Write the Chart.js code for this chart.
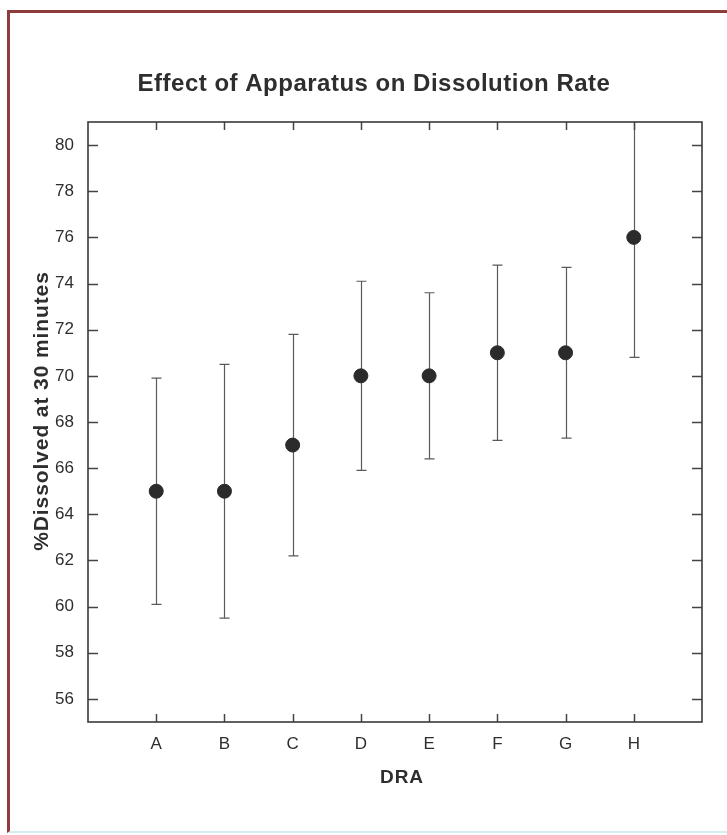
<!DOCTYPE html>
<html>
<head>
<meta charset="utf-8">
<script src="https://cdn.jsdelivr.net/npm/chart.js@4"></script>
<style>
  html, body { margin: 0; padding: 0; background: #fff; overflow: hidden; }
  #wrap { position: relative; width: 727px; height: 835px; }
  #frame {
    position: absolute; left: 7px; top: 10px; width: 740px; height: 818px;
    border-left: 3px solid #8e3d3c; border-top: 3px solid #8e3d3c;
    border-bottom: 2px solid #d6eef0;
  }
  canvas { position: absolute; left: 0; top: 0; }
</style>
</head>
<body>
<div id="wrap">
  <div id="frame"></div>
  <canvas id="chart" width="727" height="835"></canvas>
</div>
<script>
// data
const groups = ['A', 'B', 'C', 'D', 'E', 'F', 'G', 'H'];
const means = [65, 65, 67, 70, 70, 71, 71, 76];
const upper = [69.9, 70.5, 71.8, 74.1, 73.6, 74.8, 74.7, 81.2];
const lower = [60.1, 59.5, 62.2, 65.9, 66.4, 67.2, 67.3, 70.8];
const yTicks = [56, 58, 60, 62, 64, 66, 68, 70, 72, 74, 76, 78, 80];

const chartTitle = 'Effect of Apparatus on Dissolution Rate';
const xTitle = 'DRA';
const yTitle = '%Dissolved at 30 minutes';

const ink = '#2b2b2b';
const textClr = '#2e2e2e';
const fontFam = 'Liberation Sans, Arial, sans-serif';

// error bars: vertical line + short cap, clipped to the plot box
const errorBars = {
  id: 'errorBars',
  beforeDatasetsDraw(chart) {
    const { ctx, chartArea: a, scales: { x, y } } = chart;
    ctx.save();
    ctx.beginPath();
    ctx.rect(a.left, a.top, a.right - a.left, a.bottom - a.top);
    ctx.clip();
    ctx.strokeStyle = '#5a5a5a';
    ctx.lineWidth = 1.2;
    groups.forEach((g, i) => {
      const px = Math.round(x.getPixelForValue(i)) + 0.5;
      const hi = y.getPixelForValue(upper[i]);
      const lo = y.getPixelForValue(lower[i]);
      ctx.beginPath();
      ctx.moveTo(px, hi); ctx.lineTo(px, lo);
      ctx.moveTo(px - 5, hi); ctx.lineTo(px + 5, hi);
      ctx.moveTo(px - 5, lo); ctx.lineTo(px + 5, lo);
      ctx.stroke();
    });
    ctx.restore();
  }
};

// inward tick marks on all four sides, plot frame, titles
const frameAndTitles = {
  id: 'frameAndTitles',
  afterDraw(chart) {
    const { ctx, chartArea: a, scales: { x, y } } = chart;
    ctx.save();
    ctx.strokeStyle = '#444';
    ctx.lineWidth = 1.5;
    ctx.beginPath();
    x.ticks.forEach((t, i) => {
      const px = Math.round(x.getPixelForTick(i)) + 0.5;
      ctx.moveTo(px, a.bottom); ctx.lineTo(px, a.bottom - 8);
      ctx.moveTo(px, a.top); ctx.lineTo(px, a.top + 8);
    });
    yTicks.forEach(v => {
      const py = Math.round(y.getPixelForValue(v)) + 0.5;
      ctx.moveTo(a.left, py); ctx.lineTo(a.left + 10, py);
      ctx.moveTo(a.right, py); ctx.lineTo(a.right - 10, py);
    });
    ctx.stroke();
    ctx.lineWidth = 1.6;
    ctx.strokeStyle = '#3a3a3a';
    ctx.strokeRect(a.left, a.top, a.right - a.left, a.bottom - a.top);

    ctx.fillStyle = textClr;
    ctx.textAlign = 'center';
    ctx.textBaseline = 'alphabetic';

    ctx.font = 'bold 24px ' + fontFam;
    ctx.letterSpacing = '0.5px';
    ctx.fillText(chartTitle, 374, 91);

    ctx.font = 'bold 19px ' + fontFam;
    ctx.letterSpacing = '1px';
    ctx.fillText(xTitle, 402, 783);

    ctx.font = 'bold 21px ' + fontFam;
    ctx.letterSpacing = '0.9px';
    ctx.translate(48, 411);
    ctx.rotate(-Math.PI / 2);
    ctx.fillText(yTitle, 0, 0);
    ctx.restore();
  }
};

new Chart(document.getElementById('chart'), {
  type: 'scatter',
  data: {
    datasets: [{
      data: groups.map((g, i) => ({ x: i, y: means[i] })),
      backgroundColor: ink,
      borderColor: ink,
      pointRadius: 7,
      pointHoverRadius: 7
    }]
  },
  options: {
    responsive: false,
    animation: false,
    layout: { padding: { left: 0, right: 25, top: 122, bottom: 0 } },
    plugins: {
      legend: { display: false },
      tooltip: { enabled: false },
      title: { display: false }
    },
    scales: {
      x: {
        type: 'linear',
        min: -1,
        max: 8,
        afterBuildTicks(scale) {
          scale.ticks = groups.map((g, i) => ({ value: i }));
        },
        afterFit(scale) { scale.height = 113; },
        ticks: {
          color: textClr,
          padding: 12,
          font: { family: fontFam, size: 17 },
          callback: (v) => groups[v]
        },
        grid: { display: false, drawTicks: false },
        border: { display: false }
      },
      y: {
        min: 55,
        max: 81,
        afterBuildTicks(scale) {
          scale.ticks = yTicks.map(v => ({ value: v }));
        },
        afterFit(scale) { scale.width = 88; },
        ticks: {
          color: textClr,
          padding: 14,
          font: { family: fontFam, size: 17 }
        },
        grid: { display: false, drawTicks: false },
        border: { display: false }
      }
    }
  },
  plugins: [errorBars, frameAndTitles]
});
</script>
</body>
</html>
